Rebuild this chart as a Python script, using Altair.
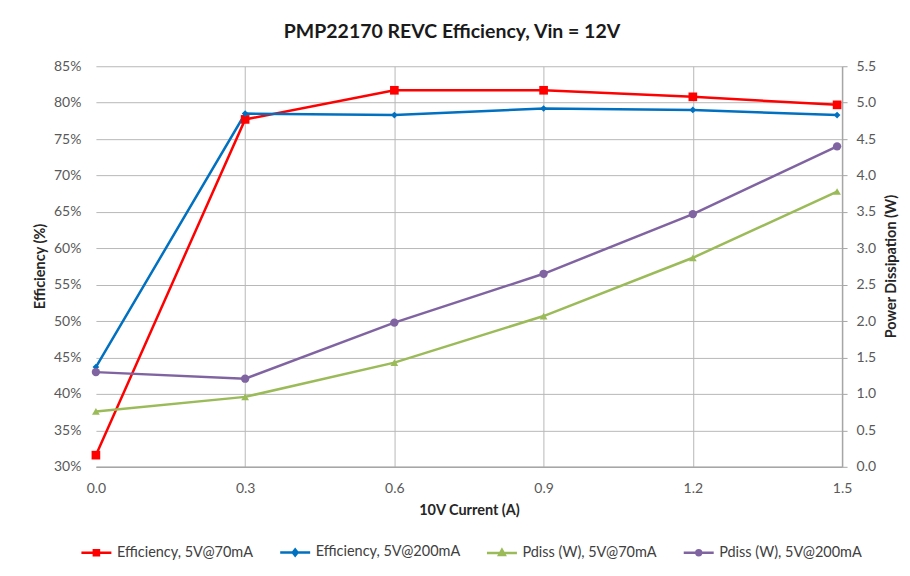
import altair as alt
import pandas as pd

current_a = [0.0, 0.3, 0.6, 0.9, 1.2, 1.49]
series_names = ["Efficiency, 5V@70mA", "Efficiency, 5V@200mA",
                "Pdiss (W), 5V@70mA", "Pdiss (W), 5V@200mA"]
eff_5v_70ma = [0.316, 0.777, 0.817, 0.817, 0.808, 0.797]
eff_5v_200ma = [0.437, 0.785, 0.783, 0.792, 0.790, 0.783]
pdiss_5v_70ma = [0.76, 0.96, 1.43, 2.07, 2.87, 3.78]
pdiss_5v_200ma = [1.30, 1.21, 1.98, 2.65, 3.47, 4.40]
colors = ["#ff0000", "#0070c0", "#9bbb59", "#8064a2"]
x_ticks = [0.0, 0.3, 0.6, 0.9, 1.2, 1.5]
eff_ticks = [0.30, 0.35, 0.40, 0.45, 0.50, 0.55, 0.60, 0.65, 0.70, 0.75, 0.80, 0.85]
pd_ticks = [0.0, 0.5, 1.0, 1.5, 2.0, 2.5, 3.0, 3.5, 4.0, 4.5, 5.0, 5.5]

rows = []
for name, vals, kind in zip(series_names,
                            [eff_5v_70ma, eff_5v_200ma, pdiss_5v_70ma, pdiss_5v_200ma],
                            ["eff", "eff", "pd", "pd"]):
    for x, v in zip(current_a, vals):
        rows.append({"current": x, "series": name, "value": v, "kind": kind})
df = pd.DataFrame(rows)

marker_shapes = ["square", "diamond", "triangle-up", "circle"]
marker_sizes = [75, 45, 60, 70]
legend_paths = [
    "M-1,0H1M-0.17,-0.17H0.17V0.17H-0.17Z",
    "M-1,0H1M0,-0.2L0.16,0L0,0.2L-0.16,0Z",
    "M-1,0H1M0,-0.2L0.19,0.14L-0.19,0.14Z",
    "M-1,0H1M-0.16,0A0.16,0.16 0 1,0 0.16,0A0.16,0.16 0 1,0 -0.16,0Z",
]

font = "Lato"
grid_col = "#b8b8b8"
label_col = "#595959"
tick_fs = 14
title_fs = 14.5

legend = alt.Legend(
    title=None, orient="none", direction="horizontal", legendX=-16, legendY=470,
    symbolSize=900, symbolStrokeWidth=2.5, symbolOpacity=1,
    labelFontSize=14.5, labelColor="#404040", labelFont=font,
    labelOffset=4, columnPadding=21, padding=0, labelLimit=300,
)
color_enc = alt.Color("series:N", scale=alt.Scale(domain=series_names, range=colors), legend=legend)
shape_legend = alt.Shape("series:N", scale=alt.Scale(domain=series_names, range=legend_paths), legend=legend)

x_enc = alt.X("current:Q", scale=alt.Scale(domain=[0, 1.5], nice=False, zero=False),
              axis=alt.Axis(values=x_ticks, format=".1f", title="10V Current (A)",
                            grid=True,
                            gridColor={"condition": {"test": "datum.value === 0", "value": "transparent"},
                                       "value": grid_col},
                            ticks=False, labelFlush=False,
                            domainColor="#a6a6a6", domainWidth=1.5,
                            labelPadding=15, labelFontSize=tick_fs, labelColor=label_col,
                            titleFontSize=title_fs, titleFontWeight="bold", titleColor="#262626",
                            titleY=44, titleBaseline="middle", labelFont=font, titleFont=font))

y_eff = alt.Y("value:Q", scale=alt.Scale(domain=[0.30, 0.85], nice=False, zero=False),
              axis=alt.Axis(values=eff_ticks, format=".0%", title="Efficiency (%)",
                            grid=True, gridColor=grid_col, ticks=False, domain=False,
                            labelFlush=False,
                            labelPadding=15, labelFontSize=tick_fs, labelColor=label_col,
                            titleFontSize=title_fs, titleFontWeight="bold", titleColor="#262626",
                            titleX=-55, titleY=200, titleAngle=270, titleBaseline="middle",
                            titleAlign="center", labelFont=font, titleFont=font))

y_pd = alt.Y("value:Q", scale=alt.Scale(domain=[0, 5.5], nice=False, zero=False),
             axis=alt.Axis(values=pd_ticks, format=".1f", title="Power Dissipation (W)",
                           orient="right", grid=False, ticks=True, tickSize=5, labelFlush=False,
                           tickColor="#a6a6a6", domainColor="#a6a6a6", domainWidth=1.5,
                           labelPadding=9, labelFontSize=tick_fs, labelColor=label_col,
                           titleFontSize=title_fs, titleFontWeight="bold", titleColor="#262626",
                           titleX=49, titleY=200, titleAngle=270, titleBaseline="middle",
                           titleAlign="center", labelFont=font, titleFont=font))


def group(kind, y_enc, idxs, with_legend=False):
    base = alt.Chart(df).transform_filter(alt.datum.kind == kind)
    layers = []
    if with_legend:
        layers.append(
            alt.Chart(df).transform_filter("datum.value < -100")
            .mark_point(filled=False, strokeWidth=2.5)
            .encode(x=x_enc, y=y_enc, color=color_enc, shape=shape_legend)
        )
    layers.append(base.mark_line(strokeWidth=2.5).encode(x=x_enc, y=y_enc, color=color_enc))
    for i in idxs:
        layers.append(
            base.transform_filter(alt.datum.series == series_names[i])
            .mark_point(filled=True, shape=marker_shapes[i], size=marker_sizes[i], opacity=1)
            .encode(x=x_enc, y=y_enc, color=color_enc)
        )
    return alt.layer(*layers)


chart = alt.layer(group("eff", y_eff, [0, 1], True), group("pd", y_pd, [2, 3])).resolve_scale(
    y="independent"
).properties(
    width=747, height=401,
    autosize=alt.AutoSizeParams(type="none"),
    padding={"left": 88, "top": 58, "right": 60, "bottom": 100},
    title=alt.TitleParams("PMP22170 REVC Efficiency, Vin = 12V", fontSize=19.5, font=font,
                          fontWeight="bold", color="#1a1a1a", offset=17, dx=-17),
).configure_view(strokeWidth=0)

chart.save("out.html", embed_options={"renderer": "svg", "actions": False})
